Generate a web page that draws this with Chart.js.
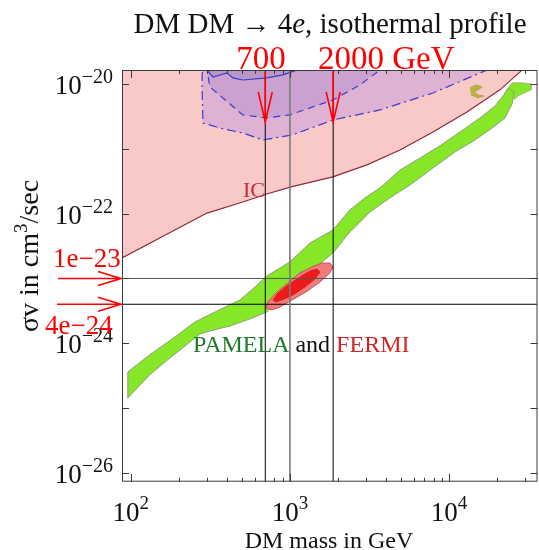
<!DOCTYPE html>
<html lang="en">
<head>
<meta charset="UTF-8">
<title>DM DM → 4e, isothermal profile</title>
<script src="https://cdn.jsdelivr.net/npm/chart.js@4.4.1/dist/chart.umd.min.js"></script>
<style>
  html, body { margin: 0; padding: 0; background: #fff; }
  #chart { display: block; }
</style>
</head>
<body>
<canvas id="chart" width="539" height="550"></canvas>
<script>
// axis ranges (GeV, cm^3/sec)
const massRange = [88, 36000];
const sigmaRange = [7.34e-27, 1.64e-20];

// tick values
const xMajorTicks = [100, 1000, 10000];
const xMinorTicks = [200, 300, 400, 500, 600, 700, 800, 900, 2000, 3000, 4000, 5000, 6000, 7000, 8000, 9000, 20000, 30000];
const xTickExp = [2, 3, 4];
const yMajorTicks = [1e-20, 1e-21, 1e-22, 1e-23, 1e-24, 1e-25, 1e-26];
const yLabelTicks = [1e-20, 1e-22, 1e-24, 1e-26];
const yTickExp = [-20, -22, -24, -26];

// IC bound (region above is excluded)
const icMass  = [88, 301, 506, 716, 1015, 1862, 3050, 4920, 7930, 12970, 20900, 28400, 32300];
const icSigma = [2.07e-23, 1.02e-22, 1.51e-22, 2.01e-22, 2.58e-22, 3.68e-22, 5.64e-22, 9.6e-22, 1.82e-21, 3.70e-21, 8.1e-21, 1.59e-20, 2.2e-20];

// blue contours (outer dash-dot, middle dashed, inner solid)
const outerMass  = [284, 280, 284, 363, 506, 676, 1030, 1864, 3683, 7930, 17340, 18100];
const outerSigma = [3e-20, 1.04e-20, 2.50e-21, 2.09e-21, 1.75e-21, 1.37e-21, 1.63e-21, 2.78e-21, 3.97e-21, 7.26e-21, 1.64e-20, 3e-20];
const midMass  = [301, 305, 314, 506, 716, 1000, 1864, 2757, 3683, 3950];
const midSigma = [3e-20, 1.38e-20, 8.99e-21, 3.33e-21, 2.99e-21, 3.33e-21, 5.66e-21, 9.65e-21, 1.64e-20, 3e-20];
const coreMass  = [297, 301, 328, 402, 438, 506, 716, 904, 1107, 1156];
const coreSigma = [3e-20, 1.64e-20, 1.28e-20, 1.48e-20, 1.24e-20, 1.15e-20, 1.24e-20, 1.38e-20, 1.64e-20, 3e-20];

// PAMELA band: upper edge left->right, then lower edge right->left
const pamelaMass = [95.7, 131, 189, 253, 338, 485, 603, 716, 1000, 1336, 1864, 2381, 2963, 3683, 4920, 6580, 8770, 11730, 15670, 19470, 21870, 23500,
                    25640, 24900, 22510, 18640, 14580, 10900, 7930, 5690, 4256, 3186, 2381, 1864, 1336, 1000, 716, 560, 420, 314, 272, 219, 164, 131, 95.7, 95.7];
const pamelaSigma = [3.61e-25, 6.61e-25, 1.25e-24, 2.13e-24, 3.04e-24, 4.66e-24, 7.39e-24, 1.09e-23, 1.80e-23, 3.52e-23, 5.60e-23, 1.14e-22, 1.75e-22, 2.49e-22, 4.71e-22, 7.23e-22, 1.11e-21, 1.82e-21, 2.99e-21, 4.58e-21, 6.53e-21, 8.68e-21,
                     7.52e-21, 4.91e-21, 2.99e-21, 2.09e-21, 1.37e-21, 8.93e-22, 5.06e-22, 2.77e-22, 1.75e-22, 1.06e-22, 5.21e-23, 2.47e-23, 1.26e-23, 7.13e-24, 3.04e-24, 2.37e-24, 1.85e-24, 1.55e-24, 1.39e-24, 9.1e-25, 5.15e-25, 3.24e-25, 1.43e-25, 3.61e-25];
const blobMass  = [23500, 24900, 28770, 32800, 32800, 29640, 27170, 25640];
const blobSigma = [8.68e-21, 1.04e-20, 1.04e-20, 1.0e-20, 8.08e-21, 7.26e-21, 6.53e-21, 5.66e-21];
const hookMass  = [13550, 14790, 16150, 15220, 14360, 15220, 16610, 15220, 13750];
const hookSigma = [8.68e-21, 9.65e-21, 8.99e-21, 8.08e-21, 7.52e-21, 6.76e-21, 6.53e-21, 6.08e-21, 6.76e-21];

// FERMI + PAMELA combined fit
const fermiOuterMass  = [706, 727, 817, 971, 1156, 1375, 1589, 1785, 1864, 1785, 1545, 1261, 1030, 865, 771, 706];
const fermiOuterSigma = [3.51e-24, 4.34e-24, 5.97e-24, 8.51e-24, 1.22e-23, 1.50e-23, 1.73e-23, 1.73e-23, 1.50e-23, 1.22e-23, 8.83e-24, 6.19e-24, 4.66e-24, 3.63e-24, 3.27e-24, 3.51e-24];
const fermiInnerMass  = [782, 841, 971, 1156, 1336, 1479, 1545, 1435, 1242, 1045, 891, 817, 782];
const fermiInnerSigma = [4.66e-24, 5.97e-24, 7.94e-24, 1.05e-23, 1.30e-23, 1.40e-23, 1.26e-23, 9.8e-24, 7.39e-24, 5.56e-24, 4.66e-24, 4.34e-24, 4.66e-24];

// guide lines
const vLines = [700, 1000, 1870];
const hLines = [1e-23, 4e-24];

function pts(xs, ys) { return xs.map((x, i) => ({ x: x, y: ys[i] })); }

function region(xs, ys, fillColor, lineColor, width, dash, order) {
    return {
        data: pts(xs, ys),
        fill: 'shape',
        backgroundColor: fillColor,
        borderColor: lineColor,
        borderWidth: width,
        borderDash: dash,
        pointRadius: 0,
        tension: 0,
        order: order
    };
}

function guide(xs, ys, color, width) {
    return { data: pts(xs, ys), fill: false, borderColor: color, borderWidth: width, pointRadius: 0, order: 0 };
}

const datasets = [
    { data: pts(icMass, icSigma), fill: 'end', backgroundColor: '#f9c9c7', borderColor: '#8e2a3a', borderWidth: 1.2, pointRadius: 0, order: 9 },
    region(outerMass, outerSigma, '#dfb2d3', '#3b3bd0', 1.2, [9, 4, 2, 4], 8),
    region(midMass, midSigma, '#cba2cf', '#3b3bd0', 1.2, [7, 5], 7),
    region(coreMass, coreSigma, '#bd96c8', '#3b3bd0', 1.2, [], 6),
    region(pamelaMass, pamelaSigma, '#86e628', '#8fa070', 1, [], 5),
    region(blobMass, blobSigma, '#86e628', '#9fb080', 0.8, [], 5),
    region(hookMass, hookSigma, '#b8b53a', '#a8a050', 0.8, [], 5),
    region(fermiOuterMass, fermiOuterSigma, '#f07c7c', '#c85050', 1, [], 3),
    region(fermiInnerMass, fermiInnerSigma, '#ee1a1a', '#e01010', 0.8, [], 2),
    guide([vLines[0], vLines[0]], sigmaRange, '#000000', 1),
    guide([vLines[1], vLines[1]], sigmaRange, '#7a7a7a', 1.6),
    guide([vLines[2], vLines[2]], sigmaRange, '#000000', 1),
    guide([97, massRange[1]], [hLines[0], hLines[0]], '#555555', 1),
    guide(massRange, [hLines[1], hLines[1]], '#000000', 1)
];

const SERIF = "'Liberation Serif', 'DejaVu Serif', serif";

function drawPow(ctx, exp, x, yBase, align, baseSize, supSize, supRise) {
    const sup = exp < 0 ? '\u2212' + Math.abs(exp) : String(exp);
    ctx.font = baseSize + 'px ' + SERIF;
    const w1 = ctx.measureText('10').width;
    ctx.font = supSize + 'px ' + SERIF;
    const w2 = ctx.measureText(sup).width;
    let start = align === 'right' ? x - w1 - w2 : x - (w1 + w2) / 2;
    ctx.textAlign = 'left';
    ctx.font = baseSize + 'px ' + SERIF;
    ctx.fillText('10', start, yBase);
    ctx.font = supSize + 'px ' + SERIF;
    ctx.fillText(sup, start + w1, yBase - supRise);
}

function arrowDown(ctx, x, y0, y1) {
    ctx.beginPath();
    ctx.moveTo(x, y0); ctx.lineTo(x, y1);
    ctx.moveTo(x - 7, y1 - 30); ctx.lineTo(x, y1); ctx.lineTo(x + 7, y1 - 30);
    ctx.stroke();
}

function arrowRight(ctx, x0, x1, y) {
    ctx.beginPath();
    ctx.moveTo(x0, y); ctx.lineTo(x1, y);
    ctx.moveTo(x1 - 23, y - 7); ctx.lineTo(x1, y); ctx.lineTo(x1 - 23, y + 7);
    ctx.stroke();
}

const decor = {
    id: 'decor',
    afterDatasetsDraw(chart) {
        const { ctx, chartArea: a, scales: { x, y } } = chart;
        ctx.save();

        // frame and inward ticks
        ctx.strokeStyle = '#3a3a3a';
        ctx.lineWidth = 1;
        ctx.strokeRect(a.left + 0.5, a.top + 0.5, a.right - a.left - 1, a.bottom - a.top - 1);
        ctx.beginPath();
        xMajorTicks.forEach(v => {
            const px = Math.round(x.getPixelForValue(v)) + 0.5;
            ctx.moveTo(px, a.bottom); ctx.lineTo(px, a.bottom - 8);
            ctx.moveTo(px, a.top); ctx.lineTo(px, a.top + 8);
        });
        xMinorTicks.forEach(v => {
            const px = Math.round(x.getPixelForValue(v)) + 0.5;
            ctx.moveTo(px, a.bottom); ctx.lineTo(px, a.bottom - 4);
            ctx.moveTo(px, a.top); ctx.lineTo(px, a.top + 4);
        });
        yMajorTicks.forEach(v => {
            const py = Math.round(y.getPixelForValue(v)) + 0.5;
            ctx.moveTo(a.left, py); ctx.lineTo(a.left + 7, py);
            ctx.moveTo(a.right, py); ctx.lineTo(a.right - 7, py);
        });
        ctx.stroke();

        // tick labels
        ctx.fillStyle = '#111';
        ctx.textBaseline = 'alphabetic';
        xMajorTicks.forEach((v, i) => {
            drawPow(ctx, xTickExp[i], x.getPixelForValue(v), 521, 'center', 27, 19, 12);
        });
        yLabelTicks.forEach((v, i) => {
            drawPow(ctx, yTickExp[i], 113, y.getPixelForValue(v) + 10, 'right', 27, 20, 11);
        });

        // axis titles
        ctx.font = '24px ' + SERIF;
        ctx.textAlign = 'center';
        ctx.fillText('DM mass in GeV', 329, 548);

        ctx.save();
        ctx.translate(38, 256);
        ctx.rotate(-Math.PI / 2);
        ctx.font = '28px ' + SERIF;
        const p1 = '\u03c3v in cm', p3 = '/sec';
        const w1 = ctx.measureText(p1).width;
        const w3 = ctx.measureText(p3).width;
        ctx.font = '19px ' + SERIF;
        const w2 = ctx.measureText('3').width;
        let sx = -(w1 + w2 + w3) / 2;
        ctx.textAlign = 'left';
        ctx.font = '28px ' + SERIF;
        ctx.fillText(p1, sx, 0);
        ctx.font = '19px ' + SERIF;
        ctx.fillText('3', sx + w1, -11);
        ctx.font = '28px ' + SERIF;
        ctx.fillText(p3, sx + w1 + w2, 0);
        ctx.restore();

        // title with italic e
        const t1 = 'DM DM \u2192 4', t2 = 'e', t3 = ', isothermal profile';
        ctx.font = '29px ' + SERIF;
        const a1 = ctx.measureText(t1).width, a3 = ctx.measureText(t3).width;
        ctx.font = 'italic 29px ' + SERIF;
        const a2 = ctx.measureText(t2).width;
        let tx = 330 - (a1 + a2 + a3) / 2;
        ctx.textAlign = 'left';
        ctx.font = '29px ' + SERIF;
        ctx.fillText(t1, tx, 33);
        ctx.font = 'italic 29px ' + SERIF;
        ctx.fillText(t2, tx + a1, 33);
        ctx.font = '29px ' + SERIF;
        ctx.fillText(t3, tx + a1 + a2, 33);

        // in-plot labels
        ctx.font = '22px ' + SERIF;
        ctx.fillStyle = '#c22a3c';
        ctx.fillText('IC', 243, 197);

        ctx.font = '24px ' + SERIF;
        let lx = 193;
        ctx.fillStyle = '#1f7a2c';
        ctx.fillText('PAMELA', lx, 352);
        lx += ctx.measureText('PAMELA ').width;
        ctx.fillStyle = '#111';
        ctx.fillText('and', lx, 352);
        lx += ctx.measureText('and ').width;
        ctx.fillStyle = '#d42424';
        ctx.fillText('FERMI', lx, 352);

        // red annotations
        ctx.fillStyle = '#ff0000';
        ctx.strokeStyle = '#ff0000';
        ctx.lineWidth = 1.6;
        ctx.font = '33px ' + SERIF;
        ctx.textAlign = 'center';
        ctx.fillText('700', 261, 69);
        ctx.textAlign = 'left';
        ctx.fillText('2000 GeV', 318, 69);
        arrowDown(ctx, x.getPixelForValue(vLines[0]), a.top + 2, 122);
        arrowDown(ctx, x.getPixelForValue(vLines[2]), a.top + 2, 122);

        ctx.font = '27px ' + SERIF;
        ctx.fillText('1e\u221223', 53, 267);
        ctx.fillText('4e\u221224', 45, 334);
        arrowRight(ctx, 58, a.left - 1, y.getPixelForValue(hLines[0]));
        arrowRight(ctx, 57, a.left - 1, y.getPixelForValue(hLines[1]));

        ctx.restore();
    }
};

new Chart(document.getElementById('chart'), {
    type: 'line',
    data: { datasets: datasets },
    options: {
        responsive: false,
        animation: false,
        layout: { padding: { top: 70, right: 1.5, left: 0, bottom: 0 } },
        plugins: { legend: { display: false }, tooltip: { enabled: false } },
        elements: { line: { tension: 0 } },
        scales: {
            x: {
                type: 'logarithmic',
                min: massRange[0],
                max: massRange[1],
                bounds: 'data',
                ticks: { display: false },
                grid: { display: false },
                border: { display: false },
                afterFit: s => { s.height = 68.3; }
            },
            y: {
                type: 'logarithmic',
                min: sigmaRange[0],
                max: sigmaRange[1],
                bounds: 'data',
                ticks: { display: false },
                grid: { display: false },
                border: { display: false },
                afterFit: s => { s.width = 122; }
            }
        }
    },
    plugins: [decor]
});
</script>
</body>
</html>
